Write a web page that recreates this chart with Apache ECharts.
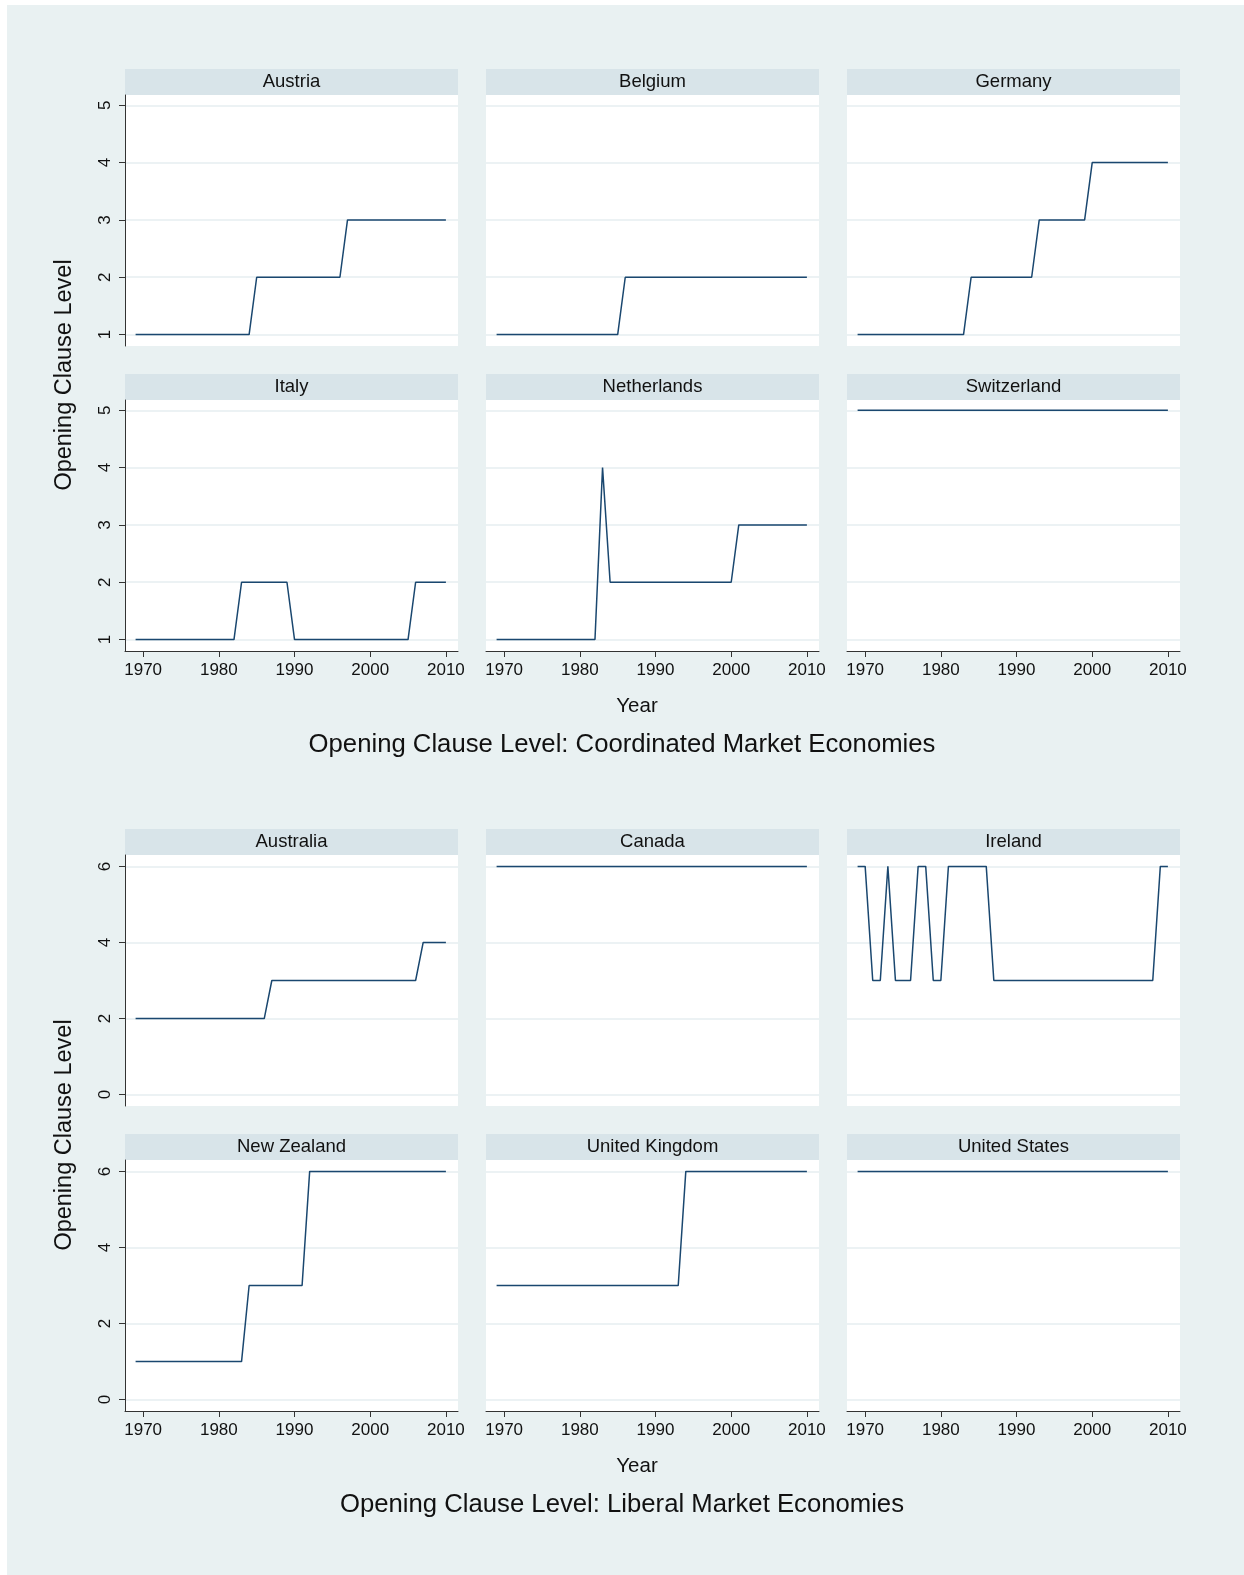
<!DOCTYPE html>
<html><head><meta charset="utf-8">
<script src="https://cdn.jsdelivr.net/npm/echarts@6/dist/echarts.min.js"></script>
<style>html,body{margin:0;padding:0;background:#fff}#c{width:1244px;height:1575px}</style>
</head><body><div id="c"></div>
<script>
// ---- data ----
const years = [1969,1970,1971,1972,1973,1974,1975,1976,1977,1978,1979,1980,1981,1982,1983,1984,1985,1986,1987,1988,1989,1990,1991,1992,1993,1994,1995,1996,1997,1998,1999,2000,2001,2002,2003,2004,2005,2006,2007,2008,2009,2010];
const austria     = [1, 1,1,1,1,1,1,1,1,1,1, 1,1,1,1,1,2,2,2,2,2, 2,2,2,2,2,2,2,3,3,3, 3,3,3,3,3,3,3,3,3,3, 3];
const belgium     = [1, 1,1,1,1,1,1,1,1,1,1, 1,1,1,1,1,1,2,2,2,2, 2,2,2,2,2,2,2,2,2,2, 2,2,2,2,2,2,2,2,2,2, 2];
const germany     = [1, 1,1,1,1,1,1,1,1,1,1, 1,1,1,1,2,2,2,2,2,2, 2,2,2,3,3,3,3,3,3,3, 4,4,4,4,4,4,4,4,4,4, 4];
const italy       = [1, 1,1,1,1,1,1,1,1,1,1, 1,1,1,2,2,2,2,2,2,2, 1,1,1,1,1,1,1,1,1,1, 1,1,1,1,1,1,2,2,2,2, 2];
const netherlands = [1, 1,1,1,1,1,1,1,1,1,1, 1,1,1,4,2,2,2,2,2,2, 2,2,2,2,2,2,2,2,2,2, 2,3,3,3,3,3,3,3,3,3, 3];
const switzerland = [5, 5,5,5,5,5,5,5,5,5,5, 5,5,5,5,5,5,5,5,5,5, 5,5,5,5,5,5,5,5,5,5, 5,5,5,5,5,5,5,5,5,5, 5];
const australia   = [2, 2,2,2,2,2,2,2,2,2,2, 2,2,2,2,2,2,2,3,3,3, 3,3,3,3,3,3,3,3,3,3, 3,3,3,3,3,3,3,4,4,4, 4];
const canada      = [6, 6,6,6,6,6,6,6,6,6,6, 6,6,6,6,6,6,6,6,6,6, 6,6,6,6,6,6,6,6,6,6, 6,6,6,6,6,6,6,6,6,6, 6];
const ireland     = [6, 6,3,3,6,3,3,3,6,6,3, 3,6,6,6,6,6,6,3,3,3, 3,3,3,3,3,3,3,3,3,3, 3,3,3,3,3,3,3,3,3,6, 6];
const newZealand  = [1, 1,1,1,1,1,1,1,1,1,1, 1,1,1,1,3,3,3,3,3,3, 3,3,6,6,6,6,6,6,6,6, 6,6,6,6,6,6,6,6,6,6, 6];
const unitedKingdom = [3, 3,3,3,3,3,3,3,3,3,3, 3,3,3,3,3,3,3,3,3,3, 3,3,3,3,6,6,6,6,6,6, 6,6,6,6,6,6,6,6,6,6, 6];
const unitedStates  = [6, 6,6,6,6,6,6,6,6,6,6, 6,6,6,6,6,6,6,6,6,6, 6,6,6,6,6,6,6,6,6,6, 6,6,6,6,6,6,6,6,6,6, 6];

const cmeCountries = ['Austria','Belgium','Germany','Italy','Netherlands','Switzerland'];
const cmeValues = [austria, belgium, germany, italy, netherlands, switzerland];
const lmeCountries = ['Australia','Canada','Ireland','New Zealand','United Kingdom','United States'];
const lmeValues = [australia, canada, ireland, newZealand, unitedKingdom, unitedStates];
const xTicks = [1970,1980,1990,2000,2010];
const cmeYTicks = [1,2,3,4,5];
const lmeYTicks = [0,2,4,6];
const groupTitles = ['Opening Clause Level: Coordinated Market Economies','Opening Clause Level: Liberal Market Economies'];
const xTitle = 'Year';
const yTitle = 'Opening Clause Level';

// ---- layout / style ----
const FONT = "'Liberation Sans', Arial, Helvetica, sans-serif";
const BG = '#e9f1f2', STRIP = '#d8e4e9', GRIDC = '#e6eef0', LINE = '#1a476f', AXIS = '#333';
const colLeft = [125, 486, 847];
const PW = 333, SH = 26, PH = 251;
const groupStripTops = [[69, 374], [829, 1134]];
const yRanges = [[0.8, 5.18], [-0.3, 6.3]];
const yTicksByGroup = [cmeYTicks, lmeYTicks];
const groups = [{names: cmeCountries, vals: cmeValues}, {names: lmeCountries, vals: lmeValues}];

const grids = [], xAxes = [], yAxes = [], series = [];
const graphics = [
  {type:'rect', shape:{x:0,y:0,width:1244,height:5}, style:{fill:'#fff'}},
  {type:'rect', shape:{x:0,y:0,width:7,height:1575}, style:{fill:'#fff'}}
];
groups.forEach((grp, g) => {
  grp.names.forEach((name, i) => {
    const row = Math.floor(i / 3), col = i % 3;
    const k = grids.length;
    const st = groupStripTops[g][row];
    grids.push({left: colLeft[col], top: st + SH, width: PW, height: PH,
      show: true, backgroundColor: '#fff', borderWidth: 0, containLabel: false});
    graphics.push({type:'rect', shape:{x: colLeft[col], y: st, width: PW, height: SH}, style:{fill: STRIP}});
    graphics.push({type:'text', x: colLeft[col] + PW/2, y: st + SH/2 - 0.5,
      style:{text: name, align:'center', verticalAlign:'middle', fontSize: 18.5, fontFamily: FONT, fill:'#111'}});
    const bottomRow = row === 1, firstCol = col === 0;
    xAxes.push({gridIndex:k, type:'value', min:1967.6, max:2011.6,
      axisLine:{show: bottomRow, onZero:false, lineStyle:{color: AXIS, width:1}},
      axisTick:{show: bottomRow, customValues: xTicks, length:6, lineStyle:{color: AXIS, width:1}},
      axisLabel:{show: bottomRow, customValues: xTicks, margin:11, fontSize:17, color:'#111', fontFamily: FONT,
        formatter: v => String(v)},
      splitLine:{show:false}});
    yAxes.push({gridIndex:k, type:'value', min: yRanges[g][0], max: yRanges[g][1],
      axisLine:{show: firstCol, onZero:false, lineStyle:{color: AXIS, width:1}},
      axisTick:{show: firstCol, customValues: yTicksByGroup[g], length:6, lineStyle:{color: AXIS, width:1}},
      axisLabel:{show: firstCol, customValues: yTicksByGroup[g], rotate:90, margin:11, fontSize:17, color:'#111', fontFamily: FONT,
        formatter: v => String(v)},
      splitLine:{show:true, lineStyle:{color: GRIDC, width:1.5}}});
    const vals = grp.vals[i];
    series.push({type:'line', name, xAxisIndex:k, yAxisIndex:k,
      data: years.map((y, j) => [y, vals[j]]),
      showSymbol:false, symbol:'none', silent:true,
      lineStyle:{color: LINE, width:1.5}});
  });
  const off = g * 760;
  graphics.push({type:'text', x:65, y:375 + off, rotation: Math.PI/2,
    style:{text: yTitle, align:'center', verticalAlign:'middle', fontSize:23.5, fontFamily: FONT, fill:'#111'}});
  graphics.push({type:'text', x:637, y:706.5 + off,
    style:{text: xTitle, align:'center', verticalAlign:'middle', fontSize:20.5, fontFamily: FONT, fill:'#111'}});
});

const chart = echarts.init(document.getElementById('c'), null, {renderer:'canvas'});
chart.setOption({
  backgroundColor: BG,
  animation: false,
  title: groupTitles.map((t, g) => ({text: t, left:'center', top: 731.5 + g*760, padding:0,
    textStyle:{fontSize:25.7, fontWeight:'normal', color:'#111', fontFamily: FONT}})),
  grid: grids, xAxis: xAxes, yAxis: yAxes, series,
  graphic: graphics
});
</script></body></html>
